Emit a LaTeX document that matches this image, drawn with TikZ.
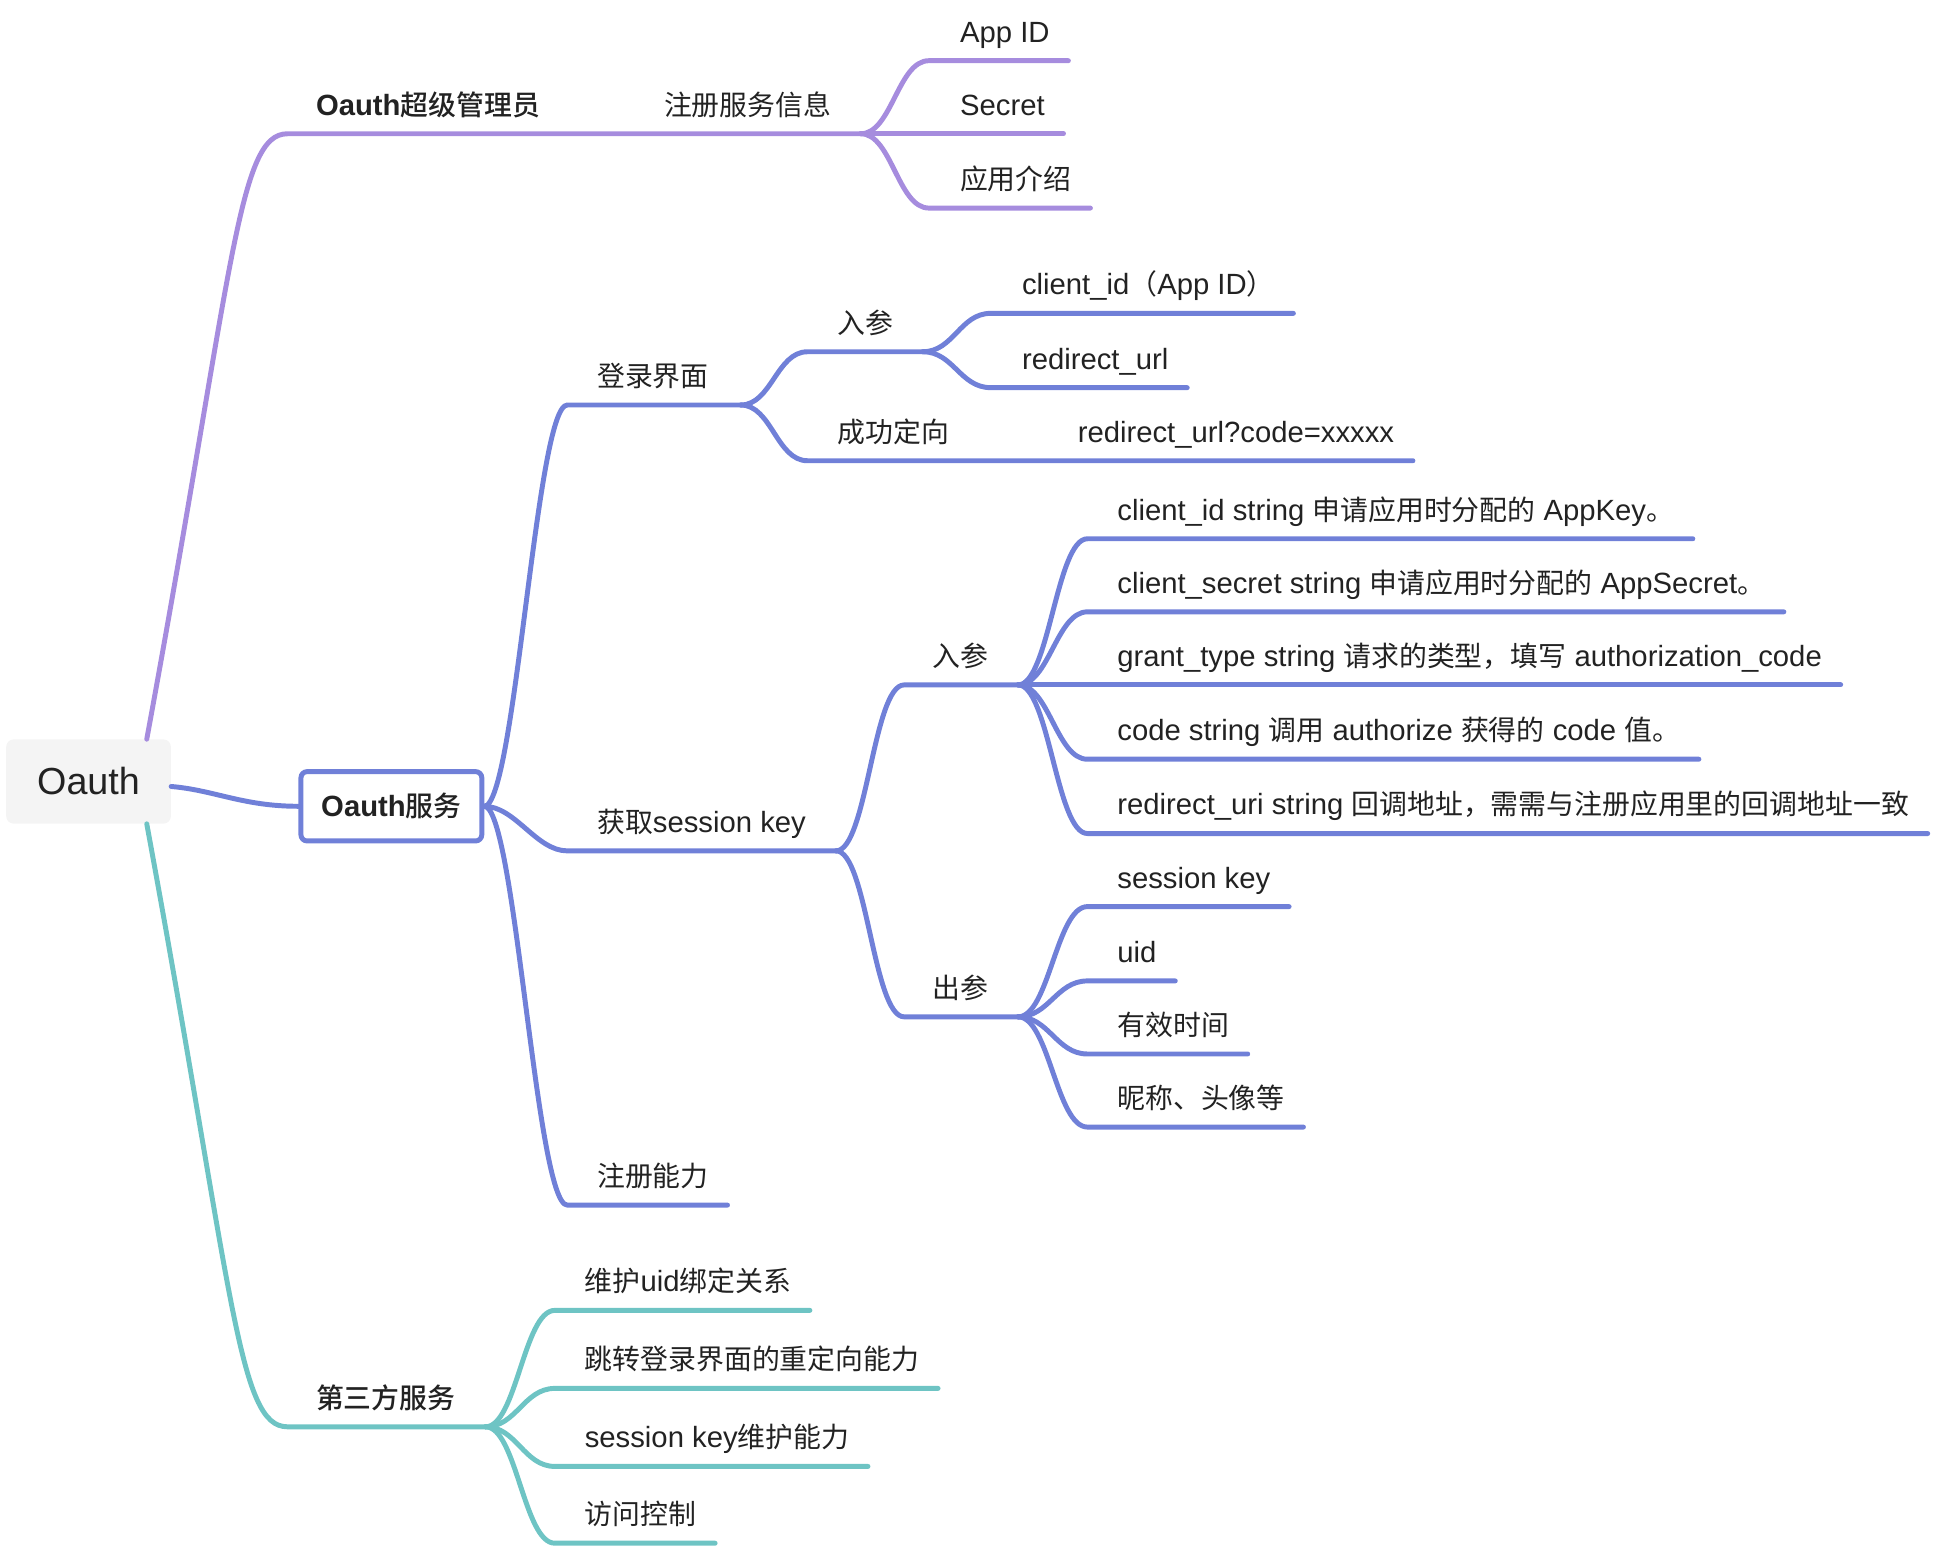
\documentclass[tikz,border=0pt]{standalone}
\usepackage{fontspec}
\setmainfont{Liberation Sans}[Scale=1.05]
\newfontfamily\cjk{Noto Sans CJK SC}[BoldFont={Noto Sans CJK SC Medium}]

\definecolor{purpleline}{RGB}{166,140,222}
\definecolor{blueline}{RGB}{112,128,216}
\definecolor{tealline}{RGB}{110,196,196}
\definecolor{rootfill}{RGB}{244,244,244}
\definecolor{inktext}{RGB}{34,34,34}

\tikzset{
    topic/.style={anchor=base west, inner sep=0pt, text=inktext, font=\fontsize{22.5}{27}\selectfont},
    headtopic/.style={topic, font=\fontsize{22.5}{27}\selectfont\bfseries},
    twig/.style={line width=4pt, line cap=round, line join=round},
}

\begin{document}
\begin{tikzpicture}[x=1pt, y=-1pt]
    \useasboundingbox (0,0) rectangle (1568,1250);

    % Root and the service box
    \node[fill=rootfill, rounded corners=6pt, minimum width=133pt, minimum height=68pt, text=inktext, font=\fontsize{29}{34}\selectfont] (oauth) at (71.5,631) {Oauth};
    \node[draw=blueline, line width=4pt, rounded corners=5pt, minimum width=146pt, minimum height=56pt, text=inktext, font=\fontsize{22.5}{27}\selectfont\bfseries] (svc) at (316,651) {Oauth{\cjk 服务}};
    \draw[twig, blueline] ([yshift=-4pt]oauth.east) .. controls +(35,3) and +(-45,0) .. (svc.west);

    % Admin branch
    \coordinate (admin-s) at (232,108);
    \coordinate (reg-s) at (512,108);
    \coordinate (reg-f) at (695,108);
    \node[headtopic] (admin) at (255,93) {Oauth{\cjk 超级管理员}};
    \node[topic] (reg) at (536,93) {\cjk 注册服务信息};
    \draw[twig, purpleline] ([xshift=47pt]oauth.north) .. controls +(70,-380) and +(-40,0) .. (admin-s) -- (reg-s) -- (reg-f);
    \foreach \n/\y/\txt in {appid/49/App ID, secret/108/Secret, intro/168/{{\cjk 应用介绍}}} {
        \coordinate (\n-s) at (750,\y);
        \node[topic] (\n) at (775,\y-15) {\txt};
        \draw[twig, purpleline] (reg-f) .. controls +(25,0) and +(-25,0) .. (\n-s) -- (\n-s -| \n.east) -- ++(15,0);
    }

    % Login page
    \coordinate (login-s) at (458,327);
    \coordinate (login-f) at (598,327);
    \node[topic] (login) at (482,312) {\cjk 登录界面};
    \draw[twig, blueline] (svc.east) .. controls +(25,0) and +(-25,0) .. (login-s) -- (login-f);

    \coordinate (inpa-s) at (652,284);
    \coordinate (inpa-f) at (745,284);
    \node[topic] (inpa) at (676,269) {\cjk 入参};
    \draw[twig, blueline] (login-f) .. controls +(25,0) and +(-25,0) .. (inpa-s) -- (inpa-f);
    \foreach \n/\y/\txt in {cid/253/{client\_id{\cjk （}App ID{\cjk ）}}, rurl/313/redirect\_url} {
        \coordinate (\n-s) at (800,\y);
        \node[topic] (\n) at (825,\y-15) {\txt};
        \draw[twig, blueline] (inpa-f) .. controls +(25,0) and +(-25,0) .. (\n-s) -- (\n-s -| \n.east) -- ++(15,0);
    }

    \coordinate (succ-s) at (652,372);
    \coordinate (code-s) at (846,372);
    \node[topic] (succ) at (676,357) {\cjk 成功定向};
    \node[topic] (code) at (870,357) {redirect\_url?code=xxxxx};
    \draw[twig, blueline] (login-f) .. controls +(25,0) and +(-25,0) .. (succ-s) -- (code-s) -- (code-s -| code.east) -- ++(15,0);

    % Session key
    \coordinate (skey-s) at (458,687);
    \coordinate (skey-f) at (675,687);
    \node[topic] (skey) at (482,672) {{\cjk 获取}session key};
    \draw[twig, blueline] (svc.east) .. controls +(25,0) and +(-25,0) .. (skey-s) -- (skey-f);

    \coordinate (inpb-s) at (730,553);
    \coordinate (inpb-f) at (822,553);
    \node[topic] (inpb) at (753,538) {\cjk 入参};
    \draw[twig, blueline] (skey-f) .. controls +(25,0) and +(-25,0) .. (inpb-s) -- (inpb-f);
    \foreach \n/\y/\txt in {
        in1/435/{client\_id string {\cjk 申请应用时分配的} AppKey{\cjk 。}},
        in2/494/{client\_secret string {\cjk 申请应用时分配的} AppSecret{\cjk 。}},
        in3/553/{grant\_type string {\cjk 请求的类型，填写} authorization\_code},
        in4/613/{code string {\cjk 调用} authorize {\cjk 获得的} code {\cjk 值。}},
        in5/673/{redirect\_uri string {\cjk 回调地址，需需与注册应用里的回调地址一致}}} {
        \coordinate (\n-s) at (878,\y);
        \node[topic] (\n) at (902,\y-15) {\txt};
        \draw[twig, blueline] (inpb-f) .. controls +(25,0) and +(-25,0) .. (\n-s) -- (\n-s -| \n.east) -- ++(15,0);
    }

    \coordinate (outp-s) at (730,821);
    \coordinate (outp-f) at (822,821);
    \node[topic] (outp) at (753,806) {\cjk 出参};
    \draw[twig, blueline] (skey-f) .. controls +(25,0) and +(-25,0) .. (outp-s) -- (outp-f);
    \foreach \n/\y/\txt in {out1/732/session key, out2/792/uid, out3/851/{{\cjk 有效时间}}, out4/910/{{\cjk 昵称、头像等}}} {
        \coordinate (\n-s) at (878,\y);
        \node[topic] (\n) at (902,\y-15) {\txt};
        \draw[twig, blueline] (outp-f) .. controls +(25,0) and +(-25,0) .. (\n-s) -- (\n-s -| \n.east) -- ++(15,0);
    }

    % Register capability
    \coordinate (regcap-s) at (458,973);
    \node[topic] (regcap) at (482,958) {\cjk 注册能力};
    \draw[twig, blueline] (svc.east) .. controls +(25,0) and +(-25,0) .. (regcap-s) -- (regcap-s -| regcap.east) -- ++(15,0);

    % Third party branch
    \coordinate (third-s) at (232,1152);
    \coordinate (third-f) at (392,1152);
    \node[headtopic] (third) at (255,1137) {\cjk 第三方服务};
    \draw[twig, tealline] ([xshift=47pt]oauth.south) .. controls +(70,380) and +(-40,0) .. (third-s) -- (third-f);
    \foreach \n/\y/\txt in {
        tp1/1058/{{\cjk 维护}uid{\cjk 绑定关系}},
        tp2/1121/{{\cjk 跳转登录界面的重定向能力}},
        tp3/1184/{session key{\cjk 维护能力}},
        tp4/1246/{{\cjk 访问控制}}} {
        \coordinate (\n-s) at (448,\y);
        \node[topic] (\n) at (472,\y-15) {\txt};
        \draw[twig, tealline] (third-f) .. controls +(25,0) and +(-25,0) .. (\n-s) -- (\n-s -| \n.east) -- ++(15,0);
    }
\end{tikzpicture}
\end{document}
